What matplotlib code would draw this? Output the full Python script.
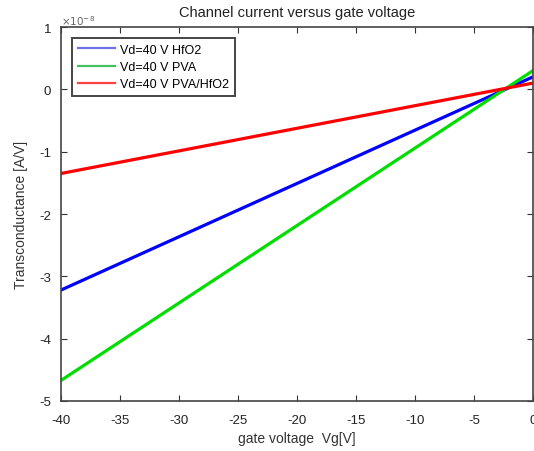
import numpy as np
import matplotlib.pyplot as plt
from matplotlib.lines import Line2D

plt.rcParams['font.family'] = ['Liberation Sans', 'DejaVu Sans']
plt.rcParams['axes.unicode_minus'] = False

# gate voltage range (V) and transconductance end values (x1e-8 A/V)
vg = [-40, 0]
hfo2 = [-3.22, 0.2]
pva = [-4.67, 0.3]
pva_hfo2 = [-1.35, 0.1]
labels = ["Vd=40 V HfO2", "Vd=40 V PVA", "Vd=40 V PVA/HfO2"]
colors = ["#0000ff", "#00dd00", "#ff0000"]
leg_colors = ["#7070e8", "#40c060", "#ff4040"]

fig = plt.figure(figsize=(5.34, 4.52), dpi=100)
ax = fig.add_axes([61/534, 1-402/452, 472/534, 374/452])

for ys, c in zip([hfo2, pva, pva_hfo2], colors):
    ax.plot(vg, ys, color=c, lw=2.3)

ax.set_xlim(-40, 0)
ax.set_ylim(-5, 1)
ax.set_xticks(np.arange(-40, 1, 5))
ax.set_yticks(np.arange(-5, 2, 1))
ax.tick_params(direction='in', top=True, right=True, labelsize=9.5, length=4,
               colors='#333333', labelcolor='#222222')
ax.tick_params(axis='x', pad=9)
ax.tick_params(axis='y', pad=7)
for s in ax.spines.values():
    s.set_color('#444444')
    s.set_linewidth(1.2)

ax.text(0.0, 1.0, r'$\times10^{-8}$', transform=ax.transAxes, fontsize=7.5,
        color='#666666', va='bottom', ha='left')
ax.set_title("Channel current versus gate voltage", fontsize=10.5, pad=8,
             color='#222222')
ax.set_xlabel("gate voltage  Vg[V]", fontsize=10, labelpad=4, color='#333333')
ax.set_ylabel("Transconductance [A/V]", fontsize=10, labelpad=8, color='#333333')

handles = [Line2D([], [], color=c, lw=1.6) for c in leg_colors]
leg = ax.legend(handles, labels, loc='upper left', fontsize=9, fancybox=False,
                framealpha=1, edgecolor='#444444', handlelength=3.0,
                handletextpad=0.4, borderaxespad=0.88, labelspacing=0.42,
                borderpad=0.45)
leg.get_frame().set_linewidth(1.4)

plt.savefig("out.png", dpi=100)
